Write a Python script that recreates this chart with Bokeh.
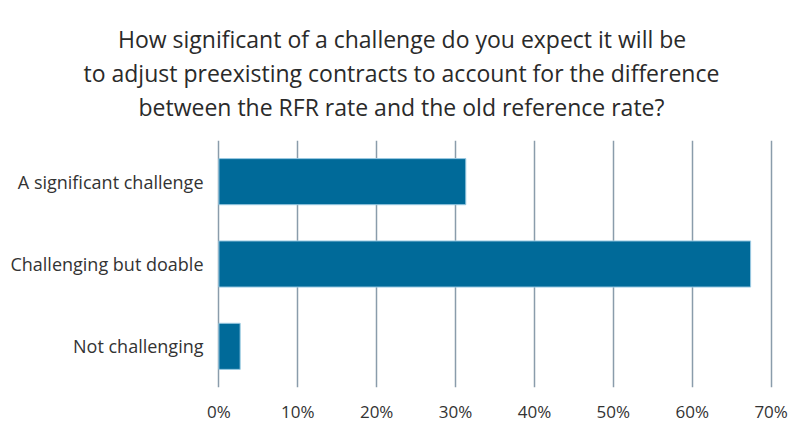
from bokeh.plotting import figure
from bokeh.models import ColumnDataSource, FactorRange, Range1d, Title, FixedTicker, PrintfTickFormatter
from bokeh.embed import file_html
from bokeh.resources import INLINE

categories = ["A significant challenge", "Challenging but doable", "Not challenging"]
values = [31.3, 67.4, 2.7]
x_ticks = [0, 10, 20, 30, 40, 50, 60, 70]
title_lines = [
    "How significant of a challenge do you expect it will be",
    "to adjust preexisting contracts to account for the difference",
    "between the RFR rate and the old reference rate?",
]

FONT = "Open Sans"
source = ColumnDataSource(dict(cat=categories, val=values))

LEFT, RIGHT, TOP, BOTTOM = 216, 27, 140, 51
p = figure(width=800, height=438, output_backend="svg", toolbar_location=None,
           y_range=FactorRange(factors=list(reversed(categories))),
           x_range=Range1d(-0.3, 70.3),
           min_border_left=LEFT, min_border_right=RIGHT, min_border_top=TOP, min_border_bottom=BOTTOM)
p.outline_line_color = None
p.background_fill_color = "white"
p.border_fill_color = "white"

p.hbar(y="cat", right="val", left=0, height=0.56, source=source,
       fill_color="#006A99", line_color="#9CCBE3", line_width=1)

# approximate rendered widths of each title line (px) so they centre on the canvas
title_widths = [565, 634, 524]
p.add_layout(Title(text=" ", text_font_size="14px", standoff=0), "above")
for line, w in reversed(list(zip(title_lines, title_widths))):
    p.add_layout(Title(text=line, align="left", offset=400 - w / 2 - LEFT,
                       text_font=FONT, text_font_size="23px", text_font_style="normal",
                       text_color="#2a2a2a", standoff=0), "above")

p.xaxis.ticker = FixedTicker(ticks=x_ticks)
p.xaxis.formatter = PrintfTickFormatter(format="%d%%")
p.xaxis.axis_line_color = None
p.xaxis.major_tick_line_color = None
p.xaxis.minor_tick_line_color = None
p.xaxis.major_label_text_font = FONT
p.xaxis.major_label_text_font_size = "17px"
p.xaxis.major_label_text_color = "#333333"
p.xaxis.major_label_standoff = 6

p.yaxis.axis_line_color = None
p.yaxis.major_tick_line_color = None
p.yaxis.minor_tick_line_color = None
p.yaxis.major_label_text_font = FONT
p.yaxis.major_label_text_font_size = "18px"
p.yaxis.major_label_text_color = "#333333"
p.yaxis.major_label_standoff = 7

p.ygrid.grid_line_color = None
p.xgrid.ticker = FixedTicker(ticks=x_ticks)
p.xgrid.grid_line_color = "#8A9CAB"
p.xgrid.grid_line_width = 1.5

open("out.html", "w").write(file_html(p, INLINE))
